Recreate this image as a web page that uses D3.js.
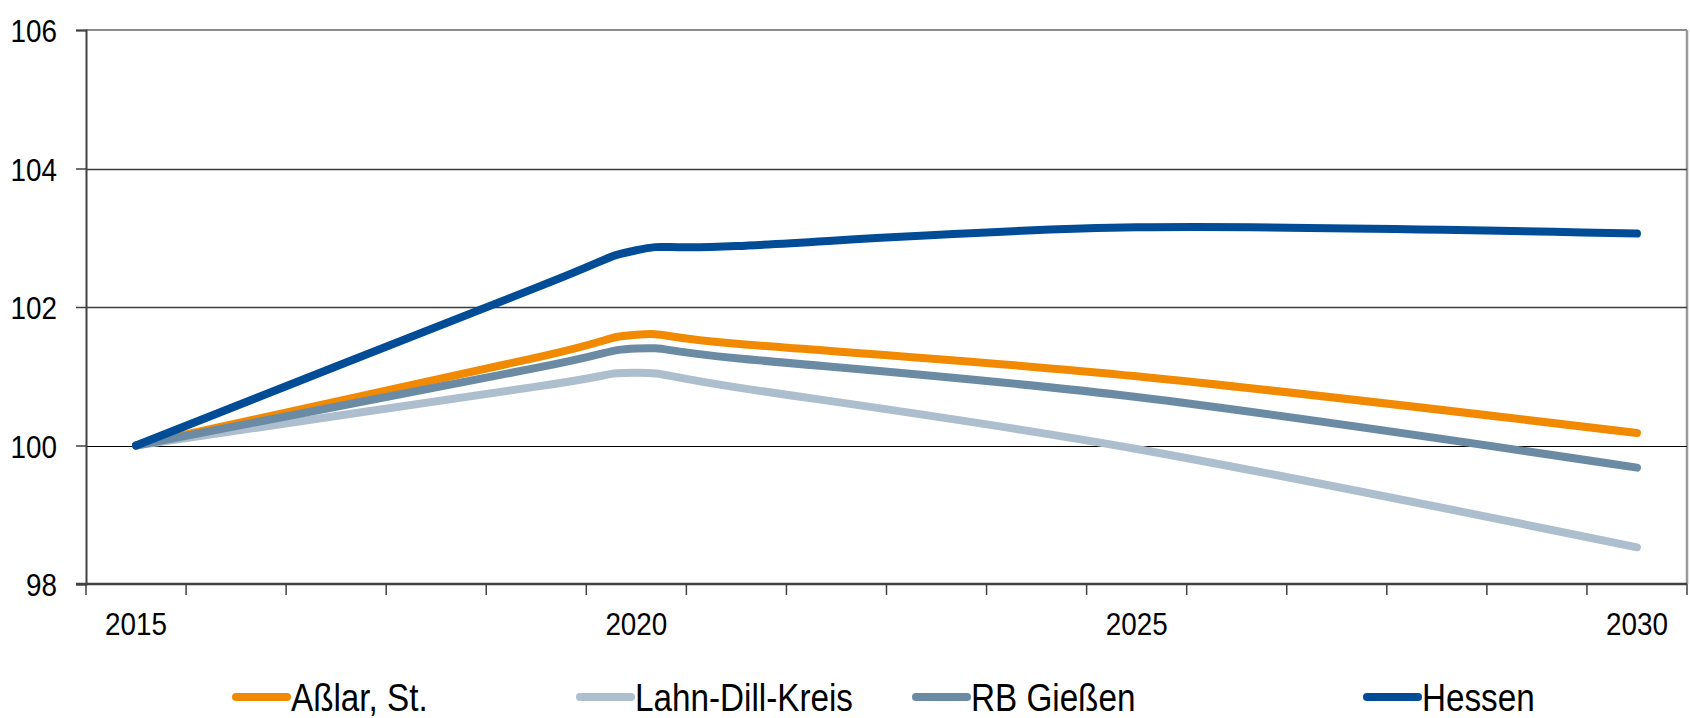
<!DOCTYPE html>
<html>
<head>
<meta charset="utf-8">
<script src="https://cdn.jsdelivr.net/npm/d3@7/dist/d3.min.js"></script>
<style>
  html, body { margin: 0; padding: 0; background: #fff; }
  svg { display: block; }
  text { font-family: "Liberation Sans", Arial, sans-serif; fill: #000; }
</style>
</head>
<body>
<svg id="chart" width="1690" height="718"></svg>
<script>
// Index values (2015 = 100)
const categories = d3.range(2015, 2031).map(String);   // category axis 2015 … 2030
const tickLabels = ["2015", "2020", "2025", "2030"];
const yTicks = [98, 100, 102, 104, 106];
const dataYears = ["2015", "2019", "2020", "2021", "2025", "2030"];

const seriesNames = ["Aßlar, St.", "Lahn-Dill-Kreis", "RB Gießen", "Hessen"];
const asslar    = [100, 101.27, 101.60, 101.47, 101.00, 100.18];
const lahnDill  = [100, 100.85, 101.05, 100.84, 99.95, 98.53];
const rbGiessen = [100, 101.12, 101.40, 101.26, 100.70, 99.68];
const hessen    = [100, 102.28, 102.82, 102.88, 103.15, 103.06];
const colors = ["#F18A00", "#ADBFCE", "#6B8BA4", "#004C96"];

const seriesValues = [asslar, lahnDill, rbGiessen, hessen];

const svg = d3.select("#chart");
const plot = { left: 86, right: 1687, top: 30, bottom: 584 };
const AXIS_SQUEEZE = 0.87;     // horizontal squeeze for a narrow sans look
const LEGEND_SQUEEZE = 0.875;

const x = d3.scaleBand().domain(categories).range([plot.left, plot.right]).padding(0);
const y = d3.scaleLinear().domain([98, 106]).range([plot.bottom, plot.top]);

// plot frame (top / right in light gray)
svg.append("line")
  .attr("x1", plot.left).attr("x2", plot.right)
  .attr("y1", plot.top).attr("y2", plot.top)
  .attr("stroke", "#8c8c8c").attr("stroke-width", 2);
svg.append("line")
  .attr("x1", plot.right).attr("x2", plot.right)
  .attr("y1", plot.top).attr("y2", plot.bottom)
  .attr("stroke", "#999").attr("stroke-width", 2.5);

// horizontal gridlines
svg.append("g").selectAll("line")
  .data(yTicks.filter(v => v > 98 && v < 106))
  .join("line")
  .attr("x1", plot.left).attr("x2", plot.right)
  .attr("y1", d => Math.round(y(d)) + 0.5).attr("y2", d => Math.round(y(d)) + 0.5)
  .attr("stroke", d => d === 100 ? "#000" : "#3c3c3c")
  .attr("stroke-width", d => d === 100 ? 1.2 : 1.5);

// y axis
const yAxis = d3.axisLeft(y).tickValues(yTicks).tickSize(10).tickFormat(d3.format("d"));
const gy = svg.append("g").attr("transform", `translate(${plot.left},0)`).call(yAxis);
gy.select(".domain").attr("stroke", "#404040").attr("stroke-width", 2);
gy.selectAll(".tick line").attr("stroke", "#404040").attr("stroke-width", 1.5);
gy.selectAll(".tick text")
  .attr("x", 0).attr("dy", "0.36em")
  .attr("font-size", 32)
  .attr("text-anchor", "end")
  .attr("transform", `translate(-29,0) scale(${AXIS_SQUEEZE},1)`);

// x axis: ticks at category boundaries, labels at category centres
const gx = svg.append("g").attr("transform", `translate(0,${plot.bottom})`);
gx.append("line")
  .attr("x1", plot.left - 10).attr("x2", plot.right)
  .attr("y1", 0).attr("y2", 0)
  .attr("stroke", "#404040").attr("stroke-width", 2.5);
const boundaries = categories.map(c => x(c)).concat([x(categories[categories.length - 1]) + x.bandwidth()]);
gx.selectAll("line.tk")
  .data(boundaries)
  .join("line").attr("class", "tk")
  .attr("x1", d => d).attr("x2", d => d)
  .attr("y1", 0).attr("y2", 11)
  .attr("stroke", "#404040").attr("stroke-width", 1.5);
gx.selectAll("text")
  .data(tickLabels)
  .join("text")
  .attr("transform", d => `translate(${x(d) + x.bandwidth() / 2},51) scale(${AXIS_SQUEEZE},1)`)
  .attr("text-anchor", "middle")
  .attr("font-size", 32)
  .text(d => d);

// series lines (Excel-style smoothing)
const line = d3.line()
  .x(d => x(d.year) + x.bandwidth() / 2)
  .y(d => y(d.value))
  .curve(d3.curveCardinal.tension(0));

svg.append("g").selectAll("path")
  .data(seriesValues.map((vals, i) => ({
    name: seriesNames[i],
    color: colors[i],
    points: vals.map((v, j) => ({ year: dataYears[j], value: v }))
  })))
  .join("path")
  .attr("d", d => line(d.points))
  .attr("fill", "none")
  .attr("stroke", d => d.color)
  .attr("stroke-width", 8)
  .attr("stroke-linecap", "round")
  .attr("stroke-linejoin", "round");

// legend
const legendX = [232, 576, 912, 1363];
const legendY = 697;
const lg = svg.append("g").selectAll("g")
  .data(seriesNames)
  .join("g")
  .attr("transform", (d, i) => `translate(${legendX[i]},${legendY})`);
lg.append("line")
  .attr("x1", 4).attr("x2", 55)
  .attr("y1", 0).attr("y2", 0)
  .attr("stroke", (d, i) => colors[i])
  .attr("stroke-width", 8)
  .attr("stroke-linecap", "round");
lg.append("text")
  .attr("transform", `translate(59,13.5) scale(${LEGEND_SQUEEZE},1)`)
  .attr("font-size", 38)
  .text(d => d);
</script>
</body>
</html>
